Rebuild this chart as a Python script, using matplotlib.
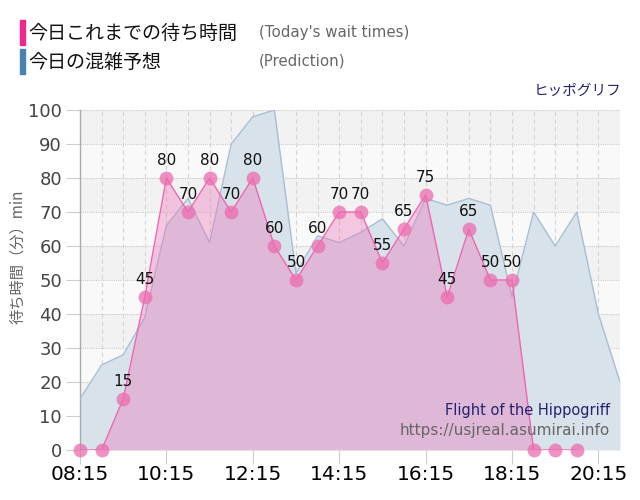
import numpy as np
import matplotlib
matplotlib.use('Agg')
import matplotlib.pyplot as plt
from matplotlib.patches import Rectangle

plt.rcParams['font.family'] = ['DejaVu Sans', 'Noto Sans CJK JP']

# data
times_actual = ['08:15', '08:45', '09:15', '09:45', '10:15', '10:45', '11:15', '11:45',
                '12:15', '12:45', '13:15', '13:45', '14:15', '14:45', '15:15', '15:45',
                '16:15', '16:45', '17:15', '17:45', '18:15', '18:45', '19:15', '19:45']
wait_actual = [0, 0, 15, 45, 80, 70, 80, 70, 80, 60, 50, 60, 70, 70, 55, 65,
               75, 45, 65, 50, 50, 0, 0, 0]

times_pred = times_actual + ['20:15', '20:45']
wait_pred = [15, 25, 28, 39, 66, 74, 61, 90, 98, 100, 52, 63, 61, 64, 68, 60,
             74, 72, 74, 72, 45, 70, 60, 70, 40, 20]

tick_labels = ['08:15', '10:15', '12:15', '14:15', '16:15', '18:15', '20:15']


def to_hours(s):
    h, m = s.split(':')
    return int(h) + int(m) / 60


xa = np.array([to_hours(s) for s in times_actual])
xp = np.array([to_hours(s) for s in times_pred])

fig = plt.figure(figsize=(6.4, 5.0), dpi=100)
ax = fig.add_axes([0.125, 0.10, 0.84375, 0.68])

# banded background
for lo in range(0, 100, 10):
    band = '#f2f2f2' if (lo // 10) % 2 == 1 else '#f9f9f9'
    ax.axhspan(lo, lo + 10, color=band, zorder=0, lw=0)

# grid
for v in range(10, 101, 10):
    ax.axhline(v, color='#cccccc', lw=0.8, ls=(0, (1, 1)), zorder=1)
for x in np.arange(8.75, 20.8, 0.5):
    ax.axvline(x, color='#d4d4d4', lw=0.8, ls=(0, (4, 3)), zorder=1)

# prediction
ax.fill_between(xp, wait_pred, 0, color='#d7e2ea', lw=0, zorder=2)
ax.plot(xp, wait_pred, color='#a7bed4', lw=1.0, zorder=3)

# actual
ax.fill_between(xa, wait_actual, 0, color='#ed76bb', alpha=0.38, lw=0, zorder=4)
ax.plot(xa, wait_actual, color='#f065b0', lw=1.0, zorder=5)
ax.plot(xa, wait_actual, 'o', ms=10, color='#ec6db0', alpha=0.75, mec='none',
        zorder=6, clip_on=False)

for x, v in zip(xa, wait_actual):
    if v > 0:
        ax.annotate(str(v), (x, v), xytext=(0, 7), textcoords='offset points',
                    ha='center', va='bottom', fontsize=11, color='#111111', zorder=7)

ax.set_xlim(8.25, 20.75)
ax.set_ylim(0, 100)
ax.set_xticks([to_hours(s) for s in tick_labels])
ax.set_xticklabels(tick_labels, fontsize=14.5, color='black')
ax.set_yticks(range(0, 101, 10))
ax.set_yticklabels([str(v) for v in range(0, 101, 10)], fontsize=13, color='#444444')
ax.tick_params(axis='y', length=10, color='#cccccc', pad=3)
ax.tick_params(axis='x', length=10, color='#cccccc', pad=1)

for side in ['top', 'right', 'bottom']:
    ax.spines[side].set_visible(False)
ax.spines['left'].set_color('#aaaaaa')
ax.spines['left'].set_linewidth(1.0)

cjk = ['Noto Sans CJK JP', 'DejaVu Sans']
ax.set_ylabel('待ち時間（分）min', fontsize=11, color='#666666', family=cjk)
ax.yaxis.set_label_coords(-0.1, 0.568)

# legend header
fig.patches.append(Rectangle((20 / 640, 1 - 45 / 500), 5 / 640, 25 / 500,
                             transform=fig.transFigure, color='#f0288c'))
fig.patches.append(Rectangle((20 / 640, 1 - 74 / 500), 5 / 640, 25 / 500,
                             transform=fig.transFigure, color='#4682b4'))
fig.text(28 / 640, 1 - 33 / 500, '今日これまでの待ち時間', fontsize=13.7, va='center',
         family=cjk, color='#111111')
fig.text(259 / 640, 1 - 32 / 500, "(Today's wait times)", fontsize=10.8, va='center',
         color='#666666')
fig.text(28 / 640, 1 - 62 / 500, '今日の混雑予想', fontsize=13.7, va='center',
         family=cjk, color='#111111')
fig.text(259 / 640, 1 - 61 / 500, '(Prediction)', fontsize=10.8, va='center',
         color='#666666')

fig.text(621 / 640, 1 - 91 / 500, 'ヒッポグリフ', fontsize=10.5, ha='right', va='center',
         family=cjk, color='#23236e')
fig.text(610 / 640, 1 - 411 / 500, 'Flight of the Hippogriff', fontsize=10.5, ha='right',
         va='center', color='#23236e')
fig.text(610 / 640, 1 - 431 / 500, 'https://usjreal.asumirai.info', fontsize=11,
         ha='right', va='center', color='#666666')

fig.savefig('out.png', dpi=100)
